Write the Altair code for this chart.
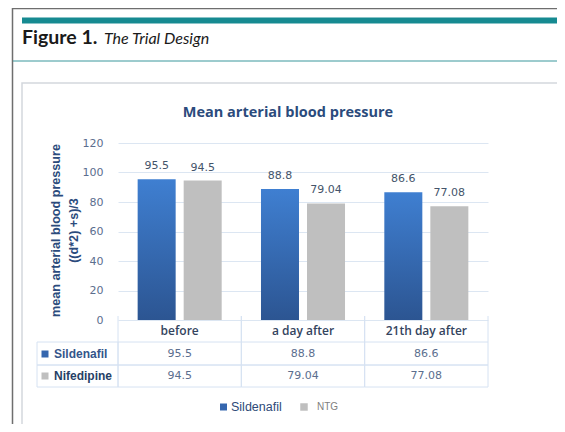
import altair as alt
import pandas as pd

# ---- data ----
categories = ["before", "a day after", "21th day after"]
series = ["Sildenafil", "Nifedipine"]
sildenafil = [95.5, 88.8, 86.6]
nifedipine = [94.5, 79.04, 77.08]
legend_names = ["Sildenafil", "NTG"]
y_ticks = [0, 20, 40, 60, 80, 100, 120]

rows = []
for c, v in zip(categories, sildenafil):
    rows.append({"category": c, "series": "Sildenafil", "value": v, "label": str(v)})
for c, v in zip(categories, nifedipine):
    rows.append({"category": c, "series": "Nifedipine", "value": v, "label": str(v)})
df = pd.DataFrame(rows)
cat_df = pd.DataFrame({"category": categories})
one = pd.DataFrame({"a": [0]})

BLUE_TOP = "#3F7FD1"
BLUE_BOT = "#2C5592"
GRAY = "#BFBFBF"
TEAL = "#168A91"
DARKBLUE = "#2B4B7C"
VALCOL = "#5B6E8E"
LINECOL = "#D6E2F2"
FONT = "DejaVu Sans"
RIGHT = 470  # beyond the right edge of the picture

def x_enc(band_pos=None):
    kw = {}
    if band_pos is not None:
        kw["bandPosition"] = band_pos
    return alt.X("category:N", sort=categories,
                 scale=alt.Scale(domain=categories, paddingInner=0, paddingOuter=0),
                 axis=None, **kw)

xo_enc = alt.XOffset("series:N",
                     scale=alt.Scale(domain=series, paddingInner=0.174, paddingOuter=0.427))
y_axis = alt.Axis(values=y_ticks, tickCount=7, grid=True, gridColor="#DCE6F2", gridWidth=1,
                  domain=False, ticks=False, labelPadding=15, labelOverlap=False,
                  labelFont=FONT, labelFontSize=11, labelColor=VALCOL,
                  title=["mean arterial  blood pressure", "((d*2) +s)/3"],
                  titleFont="Liberation Sans", titleFontSize=12.6, titleFontWeight="bold",
                  titleColor=DARKBLUE, titleAngle=270, titleX=-69, titleY=87,
                  titleAlign="center", titleBaseline="top", titleLineHeight=18)

def y_enc():
    return alt.Y("value:Q", scale=alt.Scale(domain=[0, 120], nice=False), axis=y_axis)

base = alt.Chart(df)

blue_grad = alt.LinearGradient(gradient="linear",
                               stops=[alt.GradientStop(offset=0, color=BLUE_TOP),
                                      alt.GradientStop(offset=1, color=BLUE_BOT)],
                               x1=0, x2=0, y1=0, y2=1)

bars_blue = base.transform_filter(alt.datum.series == "Sildenafil").mark_bar(
    color=blue_grad).encode(x=x_enc(), xOffset=xo_enc, y=y_enc())
bars_gray = base.transform_filter(alt.datum.series == "Nifedipine").mark_bar(
    color=GRAY).encode(x=x_enc(), xOffset=xo_enc, y=y_enc())

labels = base.mark_text(baseline="bottom", dy=-8, font=FONT, fontSize=11, color="#44546A").encode(
    x=x_enc(), xOffset=xo_enc, y=y_enc(), text="label:N")

# ---- data table under the plot ----
H_TOP, H_BOT, R1_BOT, R2_BOT = 173, 199, 222, 244

def cell_layer(y0, y1):
    return alt.Chart(cat_df).mark_rect(fill=None, stroke=LINECOL, strokeWidth=1).encode(
        x=x_enc(), y=alt.value(y0), y2=alt.value(y1))

cells = [cell_layer(H_BOT, R1_BOT), cell_layer(R1_BOT, R2_BOT)]
header_rules = [
    alt.Chart(cat_df).mark_rule(color=LINECOL, strokeWidth=1).encode(
        x=x_enc(bp), y=alt.value(H_TOP), y2=alt.value(H_BOT))
    for bp in (0, 1)
]

label_cells = [
    alt.Chart(one).mark_rect(fill=None, stroke=LINECOL, strokeWidth=1).encode(
        x=alt.value(-81), x2=alt.value(0), y=alt.value(a), y2=alt.value(b))
    for a, b in [(H_BOT, R1_BOT), (R1_BOT, R2_BOT)]
]

header_text = alt.Chart(cat_df).mark_text(font="Open Sans", fontSize=12, fontWeight=600,
                                          color="#34445E", baseline="middle").encode(
    x=x_enc(), y=alt.value(188), text="category:N")

val_s = base.transform_filter(alt.datum.series == "Sildenafil").mark_text(
    font=FONT, fontSize=11, color=VALCOL, baseline="middle").encode(
    x=x_enc(), y=alt.value(211), text="label:N")
val_n = base.transform_filter(alt.datum.series == "Nifedipine").mark_text(
    font=FONT, fontSize=11, color=VALCOL, baseline="middle").encode(
    x=x_enc(), y=alt.value(233), text="label:N")

row_sq_s = alt.Chart(one).mark_square(size=49, color="#3566AE", opacity=1).encode(
    x=alt.value(-73), y=alt.value(211))
row_sq_n = alt.Chart(one).mark_square(size=49, color=GRAY, opacity=1).encode(
    x=alt.value(-73), y=alt.value(233))
row_lab_s = alt.Chart(one).mark_text(text=series[0], font="Liberation Sans", fontSize=12,
                                     fontWeight="bold", color="#34558A", align="left",
                                     baseline="middle").encode(x=alt.value(-64), y=alt.value(211))
row_lab_n = alt.Chart(one).mark_text(text=series[1], font="Liberation Sans", fontSize=12,
                                     fontWeight="bold", color="#263F66", align="left",
                                     baseline="middle").encode(x=alt.value(-64), y=alt.value(233))

# ---- legend ----
leg_sq1 = alt.Chart(one).mark_square(size=49, color="#3566AE", opacity=1).encode(
    x=alt.value(105.5), y=alt.value(264))
leg_t1 = alt.Chart(one).mark_text(text=legend_names[0], font="Liberation Sans", fontSize=12.5,
                                  color="#2E4A78", align="left", baseline="middle").encode(
    x=alt.value(113), y=alt.value(264))
leg_sq2 = alt.Chart(one).mark_square(size=56, color=GRAY, opacity=1).encode(
    x=alt.value(186), y=alt.value(264))
leg_t2 = alt.Chart(one).mark_text(text=legend_names[1], font="Liberation Sans", fontSize=10,
                                  color="#7F7F7F", align="left", baseline="middle").encode(
    x=alt.value(199), y=alt.value(264))

# ---- figure frame and caption ----
outer = alt.Chart(one).mark_rect(fill=None, stroke="#6E6E6E", strokeWidth=1.5).encode(
    x=alt.value(-105.5), x2=alt.value(RIGHT), y=alt.value(-134.5), y2=alt.value(295))
teal_bar = alt.Chart(one).mark_rect(color=TEAL).encode(
    x=alt.value(-96), x2=alt.value(RIGHT), y=alt.value(-125.5), y2=alt.value(-119.5))
teal_line = alt.Chart(one).mark_rule(color="#3A979C", strokeWidth=1).encode(
    x=alt.value(-105), x2=alt.value(RIGHT), y=alt.value(-82))
fig_t1 = alt.Chart(one).mark_text(text="Figure 1.", font="Lato", fontSize=19.5, fontWeight="bold",
                                  color="#1A1A1A", align="left", baseline="alphabetic").encode(
    x=alt.value(-96), y=alt.value(-99))
fig_t2 = alt.Chart(one).mark_text(text="The Trial Design", font="Lato", fontSize=16,
                                  fontStyle="italic", color="#1A1A1A", align="left",
                                  baseline="alphabetic").encode(
    x=alt.value(-14), y=alt.value(-99))
inner = alt.Chart(one).mark_rect(fill=None, stroke="#D3D7DD", strokeWidth=1.5).encode(
    x=alt.value(-96), x2=alt.value(RIGHT), y=alt.value(-60), y2=alt.value(282))
title = alt.Chart(one).mark_text(text="Mean arterial blood pressure", font="Open Sans",
                                 fontSize=14.5, fontWeight="bold", color=DARKBLUE,
                                 align="center", baseline="middle").encode(
    x=alt.value(170), y=alt.value(-30))

chart = alt.layer(
    outer, teal_bar, teal_line, fig_t1, fig_t2, inner, title,
    bars_blue, bars_gray, labels,
    *cells, *header_rules, *label_cells, header_text, val_s, val_n,
    row_sq_s, row_sq_n, row_lab_s, row_lab_n,
    leg_sq1, leg_t1, leg_sq2, leg_t2,
).properties(
    width=370, height=177,
    autosize=alt.AutoSizeParams(type="none"),
    padding={"left": 110, "top": 135, "right": 69, "bottom": 104},
    background="white",
).configure_view(stroke=None).configure_axisY(labelOverlap=False)

chart.save("out.html", embed_options={"renderer": "svg", "actions": False})
